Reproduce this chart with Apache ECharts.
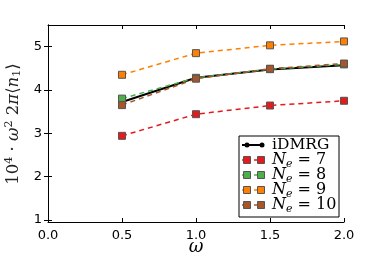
<!DOCTYPE html>
<html><head><meta charset="utf-8">
<script src="https://cdn.jsdelivr.net/npm/echarts@6/dist/echarts.min.js"></script>
<style>html,body{margin:0;padding:0;background:#fff}#c{width:382px;height:263px}</style>
</head><body><div id="c"></div>
<script>
const omega = [0.5, 1.0, 1.5, 2.0];
const idmrg = [3.72, 4.28, 4.47, 4.57];
const ne7 = [2.94, 3.44, 3.64, 3.75];
const ne8 = [3.80, 4.28, 4.48, 4.59];
const ne9 = [4.35, 4.85, 5.03, 5.12];
const ne10 = [3.65, 4.26, 4.49, 4.61];
const yTicks = [1, 2, 3, 4, 5];
const xTicks = [0, 0.5, 1.0, 1.5, 2.0];
const legendNe = ['7', '8', '9', '10'];

const colors = {ne7:'#e41a1c', ne8:'#4daf4a', ne9:'#ff7f00', ne10:'#a65628'};
const FONT = 'DejaVu Sans';
function pairs(v){ return omega.map((x,i)=>[x,v[i]]); }
function dashed(name, vals, col){
  return {name, type:'line', data:pairs(vals), symbol:'rect', symbolSize:7,
    lineStyle:{color:col, width:1.5, type:[5,4]},
    itemStyle:{color:col, borderColor:'#555', borderWidth:1}, z:3, animation:false};
}
const chart = echarts.init(document.getElementById('c'));
const axisLine = {show:true, lineStyle:{color:'#000', width:1}};
const legX0 = 239, legY0 = 136, legW = 100, legH = 81;
const graphics = [
  {type:'rect', shape:{x:legX0, y:legY0, width:legW, height:legH}, style:{fill:'#fff', stroke:'#000', lineWidth:1}, z:10}
];
const legCols = ['#000', colors.ne7, colors.ne8, colors.ne9, colors.ne10];
for (let i=0;i<5;i++){
  const y = 145 + i*15;
  if (i===0){
    graphics.push({type:'line', shape:{x1:242,y1:y,x2:262,y2:y}, style:{stroke:'#000', lineWidth:2}, z:11});
    graphics.push({type:'circle', shape:{cx:247,cy:y,r:2.5}, style:{fill:'#000'}, z:11});
    graphics.push({type:'circle', shape:{cx:262,cy:y,r:2.5}, style:{fill:'#000'}, z:11});
    graphics.push({type:'text', x:272, y:y, style:{text:'iDMRG', font:'15.5px "DejaVu Serif"', fill:'#000', verticalAlign:'middle'}, z:11});
  } else {
    const c = legCols[i];
    graphics.push({type:'line', shape:{x1:242,y1:y,x2:262,y2:y}, style:{stroke:c, lineWidth:1.5, lineDash:[3,3]}, z:11});
    graphics.push({type:'rect', shape:{x:243.5,y:y-3.5,width:7,height:7}, style:{fill:c, stroke:'#555', lineWidth:1}, z:11});
    graphics.push({type:'rect', shape:{x:257.5,y:y-3.5,width:7,height:7}, style:{fill:c, stroke:'#555', lineWidth:1}, z:11});
    graphics.push({type:'text', x:272, y:y, style:{
      text:'{i|N}{s|e}{n| = '+legendNe[i-1]+'}', verticalAlign:'middle',
      rich:{i:{font:'italic 16px "DejaVu Serif"', fill:'#000'}, s:{font:'italic 11px "DejaVu Serif"', fill:'#000', padding:[8,0,0,0]}, n:{font:'16px "DejaVu Serif"', fill:'#000'}}
    }, z:11});
  }
}
graphics.push({type:'text', x:14, y:124, rotation:Math.PI/2, style:{
  text:'{n|10}{s|4}{n| · }{i|ω}{s|2}{n| 2}{i|π}{n|⟨}{i|n}{b|1}{n|⟩}', align:'center', verticalAlign:'middle',
  rich:{n:{font:'16.5px "DejaVu Serif"', fill:'#222'}, i:{font:'italic 16.5px "DejaVu Serif"', fill:'#222'},
        s:{font:'11px "DejaVu Serif"', fill:'#222', padding:[0,0,9,0]}, b:{font:'11px "DejaVu Serif"', fill:'#222', padding:[7,0,0,0]}}
}});
graphics.push({type:'text', x:196, y:247, style:{text:'ω', font:'italic 18px "DejaVu Serif"', fill:'#000', align:'center', verticalAlign:'middle'}});

chart.setOption({
  animation:false,
  grid:{left:48, right:38, top:25, bottom:41},
  xAxis:[
    {type:'value', min:0, max:2, interval:0.5, position:'bottom', axisLine, splitLine:{show:false},
     axisTick:{inside:true, length:4, lineStyle:{color:'#000'}},
     axisLabel:{formatter:v=>v.toFixed(1), color:'#000', fontFamily:FONT, fontSize:13, margin:7}},
    {type:'value', min:0, max:2, interval:0.5, position:'top', axisLine, splitLine:{show:false},
     axisTick:{inside:true, length:4, lineStyle:{color:'#000'}}, axisLabel:{show:false}}
  ],
  yAxis:[
    {type:'value', min:0.95, max:5.5, position:'left', axisLine, splitLine:{show:false},
     axisTick:{inside:true, length:4, lineStyle:{color:'#000'}, customValues:yTicks},
     axisLabel:{color:'#000', fontFamily:FONT, fontSize:13, margin:6, customValues:yTicks}},
    {type:'value', min:0.95, max:5.5, position:'right', axisLine, splitLine:{show:false},
     axisTick:{inside:true, length:4, lineStyle:{color:'#000'}, customValues:yTicks},
     axisLabel:{show:false, customValues:yTicks}}
  ],
  series:[
    {name:'iDMRG', type:'line', data:pairs(idmrg), symbol:'circle', symbolSize:5,
     lineStyle:{color:'#000', width:2}, itemStyle:{color:'#000'}, z:2},
    dashed('Ne=7', ne7, colors.ne7),
    dashed('Ne=8', ne8, colors.ne8),
    dashed('Ne=9', ne9, colors.ne9),
    dashed('Ne=10', ne10, colors.ne10)
  ],
  graphic:graphics
});
</script></body></html>
